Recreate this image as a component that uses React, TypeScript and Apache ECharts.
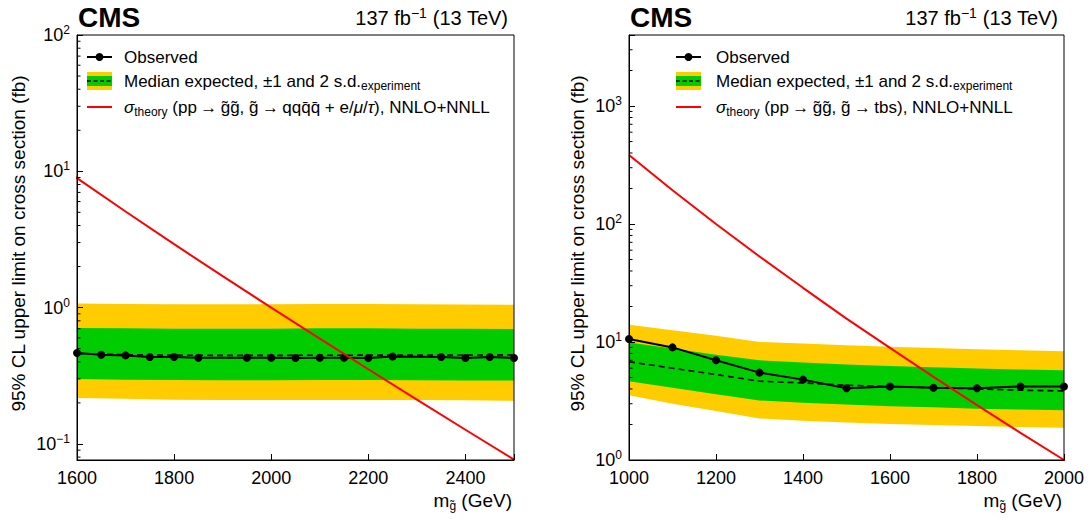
import React, { useEffect, useRef } from 'react';
import * as echarts from 'echarts';

const FONT = '"Liberation Sans", Arial, Helvetica, sans-serif';

// ---------- Left panel: gluino -> qqqq + e/mu/tau ----------
const obsMassL = [1600, 1650, 1700, 1750, 1800, 1850, 1950, 2000, 2050, 2100, 2150, 2200, 2250, 2350, 2400, 2450, 2500];
const obsL = [0.464, 0.451, 0.446, 0.434, 0.434, 0.429, 0.429, 0.429, 0.427, 0.429, 0.429, 0.427, 0.438, 0.434, 0.427, 0.434, 0.427];
const bandMassL = [1600, 1700, 1800, 1900, 2000, 2100, 2200, 2300, 2400, 2500];
const expL = [0.46, 0.452, 0.448, 0.446, 0.446, 0.447, 0.448, 0.449, 0.449, 0.45];
const s1UpL = [0.71, 0.705, 0.70, 0.70, 0.70, 0.705, 0.705, 0.70, 0.70, 0.697];
const s1DnL = [0.299, 0.296, 0.294, 0.293, 0.293, 0.294, 0.294, 0.293, 0.292, 0.292];
const s2UpL = [1.07, 1.065, 1.06, 1.06, 1.06, 1.065, 1.065, 1.06, 1.055, 1.05];
const s2DnL = [0.217, 0.214, 0.211, 0.21, 0.21, 0.21, 0.21, 0.21, 0.209, 0.207];

// ---------- Right panel: gluino -> tbs ----------
const massR = [1000, 1100, 1200, 1300, 1400, 1500, 1600, 1700, 1800, 1900, 2000];
const obsR = [10.6, 9.0, 7.0, 5.5, 4.8, 4.05, 4.2, 4.1, 4.05, 4.2, 4.2];
const expR = [6.8, 6.0, 5.3, 4.65, 4.5, 4.3, 4.2, 4.1, 4.0, 3.9, 3.85];
const s1UpR = [9.9, 8.8, 7.8, 7.0, 6.7, 6.45, 6.25, 6.1, 5.95, 5.85, 5.75];
const s1DnR = [4.65, 4.1, 3.6, 3.2, 3.05, 2.95, 2.85, 2.8, 2.72, 2.68, 2.64];
const s2UpR = [14.0, 12.6, 11.3, 10.0, 9.7, 9.4, 9.1, 8.9, 8.7, 8.5, 8.35];
const s2DnR = [3.54, 3.0, 2.6, 2.25, 2.15, 2.08, 2.02, 1.98, 1.94, 1.9, 1.88];

// ---------- Gluino pair production cross section (fb), NNLO+NNLL ----------
const theoryMass = [1000, 1100, 1200, 1300, 1400, 1500, 1600, 1700, 1800, 1900, 2000, 2100, 2200, 2300, 2400, 2500];
const theoryXsec = [385, 193, 100, 53.1, 28.8, 15.8, 8.91, 5.07, 2.92, 1.70, 1.0, 0.593, 0.353, 0.211, 0.127, 0.0767];

// ---------- Axis ticks ----------
const xTicksStep = 200;
const minorTicksL = [0.08, 0.09, 0.2, 0.3, 0.4, 0.5, 0.6, 0.7, 0.8, 0.9, 2, 3, 4, 5, 6, 7, 8, 9, 20, 30, 40, 50, 60, 70, 80, 90];
const minorTicksR = [2, 3, 4, 5, 6, 7, 8, 9, 20, 30, 40, 50, 60, 70, 80, 90, 200, 300, 400, 500, 600, 700, 800, 900, 2000, 3000];

const YELLOW = '#FFCC00';
const GREEN = '#00CC00';
const RED = '#FF0000';

const G = [
  { left: 77, top: 35, width: 437, height: 425 },
  { left: 629, top: 35, width: 435, height: 425 },
];

function logFmt(v: number) {
  const l = Math.log10(v);
  const e = Math.round(l);
  if (Math.abs(l - e) > 1e-6) return '';
  const es = e < 0 ? '\u2212' + -e : String(e);
  return `{b|10}{e|${es}}`;
}

const logRich = {
  b: { fontSize: 18, fontFamily: FONT, color: '#000', lineHeight: 22 },
  e: { fontSize: 12, fontFamily: FONT, color: '#000', lineHeight: 13, verticalAlign: 'top' },
};

function bandSeries(i: number, masses: number[], up: number[], dn: number[], color: string, z: number) {
  return {
    type: 'custom',
    xAxisIndex: i,
    yAxisIndex: i,
    silent: true,
    clip: true,
    z,
    data: masses.map((m, k) => [m, up[k], dn[k]]),
    encode: { x: 0, y: [1, 2] },
    renderItem: (params: any, api: any) => {
      if (params.dataIndex !== 0) return { type: 'group', children: [] };
      const top = masses.map((m, k) => api.coord([m, up[k]]));
      const bot = masses.map((m, k) => api.coord([m, dn[k]])).reverse();
      return { type: 'polygon', shape: { points: top.concat(bot) }, style: { fill: color, stroke: null } };
    },
  };
}

function minorTickSeries(i: number, xmin: number, vals: number[]) {
  return {
    type: 'custom',
    xAxisIndex: i,
    yAxisIndex: i,
    silent: true,
    clip: false,
    z: 12,
    data: vals.map((v) => [xmin, v]),
    renderItem: (params: any, api: any) => {
      const p = api.coord([api.value(0), api.value(1)]);
      return {
        type: 'line',
        shape: { x1: p[0], y1: p[1], x2: p[0] + 3.5, y2: p[1] },
        style: { stroke: '#000', lineWidth: 1 },
      };
    },
  };
}

function xAxisCfg(i: number, min: number, max: number) {
  return {
    type: 'value',
    gridIndex: i,
    min,
    max,
    interval: xTicksStep,
    z: 10,
    axisLine: { show: true, lineStyle: { color: '#000', width: 1 } },
    axisTick: { show: true, inside: true, length: 6, lineStyle: { color: '#000', width: 1 } },
    splitLine: { show: false },
    axisLabel: {
      color: '#000',
      fontSize: 18,
      fontFamily: FONT,
      margin: 9,
      formatter: (v: number) => (Math.abs(v % xTicksStep) < 1e-6 ? String(v) : ''),
    },
  };
}

function yAxisCfg(i: number, min: number, max: number) {
  return {
    type: 'log',
    logBase: 10,
    gridIndex: i,
    min,
    max,
    z: 10,
    axisLine: { show: true, lineStyle: { color: '#000', width: 1 } },
    axisTick: { show: true, inside: true, length: 6, lineStyle: { color: '#000', width: 1 } },
    minorTick: { show: false },
    splitLine: { show: false },
    axisLabel: { formatter: logFmt, margin: 7, rich: logRich },
  };
}

function lineSeries(i: number, xs: number[], ys: number[], extra: any) {
  return {
    type: 'line',
    xAxisIndex: i,
    yAxisIndex: i,
    data: xs.map((x, k) => [x, ys[k]]),
    silent: true,
    ...extra,
  };
}

const txt = { fontFamily: FONT, fill: '#000' };
const LFS = 17;
const LSUB = 12;

function legend(x0: number, textX: number, theoryRich: string) {
  const items: any[] = [];
  // Observed
  items.push({ type: 'line', shape: { x1: x0, y1: 57, x2: x0 + 25, y2: 57 }, style: { stroke: '#000', lineWidth: 2 } });
  items.push({ type: 'circle', shape: { cx: x0 + 12.5, cy: 57, r: 4 }, style: { fill: '#000' } });
  items.push({ type: 'text', x: textX, y: 57, style: { ...txt, text: 'Observed', fontSize: LFS, verticalAlign: 'middle' } });
  // Expected
  items.push({ type: 'rect', shape: { x: x0, y: 72, width: 25, height: 18 }, style: { fill: YELLOW } });
  items.push({ type: 'rect', shape: { x: x0, y: 76, width: 25, height: 10 }, style: { fill: GREEN } });
  items.push({ type: 'line', shape: { x1: x0, y1: 81, x2: x0 + 25, y2: 81 }, style: { stroke: '#000', lineWidth: 1.6, lineDash: [4, 2.5] } });
  items.push({
    type: 'text',
    x: textX,
    y: 81,
    style: {
      ...txt,
      text: '{a|Median expected, \u00b11 and 2 s.d.}{s|experiment}',
      verticalAlign: 'middle',
      rich: {
        a: { fontSize: LFS, fontFamily: FONT, color: '#000', lineHeight: 21 },
        s: { fontSize: LSUB, fontFamily: FONT, color: '#000', lineHeight: 14, verticalAlign: 'bottom' },
      },
    },
  });
  // Theory
  items.push({ type: 'line', shape: { x1: x0, y1: 107, x2: x0 + 25, y2: 107 }, style: { stroke: RED, lineWidth: 2 } });
  items.push({
    type: 'text',
    x: textX,
    y: 107,
    style: {
      ...txt,
      text: theoryRich,
      verticalAlign: 'middle',
      rich: {
        a: { fontSize: LFS, fontFamily: FONT, color: '#000', lineHeight: 21 },
        i: { fontSize: LFS, fontFamily: FONT, fontStyle: 'italic', color: '#000', lineHeight: 21 },
        s: { fontSize: LSUB, fontFamily: FONT, color: '#000', lineHeight: 14, verticalAlign: 'bottom' },
      },
    },
  });
  return items;
}

const gg = 'g\u0303';
const qb = 'q\u0304';
const theoryTextL = `{i|\u03c3}{s|theory}{a| (pp\u2009\u2192\u2009${gg}${gg}, ${gg}\u2009\u2192\u2009qq${qb}${qb} + e/}{i|\u03bc}{a|/}{i|\u03c4}{a|), NNLO+NNLL}`;
const theoryTextR = `{i|\u03c3}{s|theory}{a| (pp\u2009\u2192\u2009${gg}${gg}, ${gg}\u2009\u2192\u2009tbs), NNLO+NNLL}`;

function panelTexts(g: { left: number; top: number; width: number; height: number }, yNameX: number) {
  const right = g.left + g.width;
  const bottom = g.top + g.height;
  return [
    { type: 'text', x: g.left + 1, y: 17, style: { ...txt, text: 'CMS', fontSize: 28, fontWeight: 'bold', verticalAlign: 'middle' } },
    {
      type: 'text',
      x: right - 6,
      y: 18,
      style: {
        ...txt,
        text: '{a|137 fb}{s|\u22121}{a| (13 TeV)}',
        align: 'right',
        verticalAlign: 'middle',
        rich: {
          a: { fontSize: 20, fontFamily: FONT, color: '#000', lineHeight: 24 },
          s: { fontSize: 14, fontFamily: FONT, color: '#000', lineHeight: 14, verticalAlign: 'top' },
        },
      },
    },
    {
      type: 'text',
      x: yNameX,
      y: g.top + g.height / 2 - 4,
      rotation: Math.PI / 2,
      style: { ...txt, text: '95% CL upper limit on cross section (fb)', fontSize: 19, align: 'center', verticalAlign: 'middle' },
    },
    {
      type: 'text',
      x: right - 2,
      y: bottom + 40,
      style: {
        ...txt,
        text: `{a|m}{s|${gg}}{a| (GeV)}`,
        align: 'right',
        verticalAlign: 'middle',
        rich: {
          a: { fontSize: 19, fontFamily: FONT, color: '#000', lineHeight: 23 },
          s: { fontSize: 12, fontFamily: FONT, color: '#000', lineHeight: 14, verticalAlign: 'bottom' },
        },
      },
    },
  ];
}

export default function App() {
  const ref = useRef<HTMLDivElement>(null);
  useEffect(() => {
    if (!ref.current) return;
    const chart = echarts.init(ref.current, null, { renderer: 'svg' });
    const obsStyle = {
      symbol: 'circle',
      symbolSize: 8,
      itemStyle: { color: '#000' },
      lineStyle: { color: '#000', width: 2 },
      z: 5,
    };
    const expStyle = { symbol: 'none', lineStyle: { color: '#000', width: 1.6, type: [6, 4] }, z: 4 };
    const thStyle = { symbol: 'none', lineStyle: { color: RED, width: 2 }, z: 6 };
    chart.setOption({
      animation: false,
      backgroundColor: '#fff',
      grid: G.map((g) => ({ ...g, show: true, borderColor: '#000', borderWidth: 1, backgroundColor: 'transparent', z: 10 })),
      xAxis: [xAxisCfg(0, 1600, 2500), xAxisCfg(1, 1000, 2000)],
      yAxis: [yAxisCfg(0, 0.0762, 100), yAxisCfg(1, 1, 4000)],
      series: [
        bandSeries(0, bandMassL, s2UpL, s2DnL, YELLOW, 1),
        bandSeries(0, bandMassL, s1UpL, s1DnL, GREEN, 2),
        lineSeries(0, bandMassL, expL, expStyle),
        lineSeries(0, obsMassL, obsL, obsStyle),
        lineSeries(0, theoryMass, theoryXsec, thStyle),
        minorTickSeries(0, 1600, minorTicksL),
        bandSeries(1, massR, s2UpR, s2DnR, YELLOW, 1),
        bandSeries(1, massR, s1UpR, s1DnR, GREEN, 2),
        lineSeries(1, massR, expR, expStyle),
        lineSeries(1, massR, obsR, obsStyle),
        lineSeries(1, theoryMass, theoryXsec, thStyle),
        minorTickSeries(1, 1000, minorTicksR),
      ],
      graphic: [
        ...panelTexts(G[0], 18),
        ...panelTexts(G[1], 577),
        ...legend(87, 124, theoryTextL),
        ...legend(676, 716, theoryTextR),
      ],
    });
    return () => chart.dispose();
  }, []);
  return <div ref={ref} style={{ position: 'absolute', left: 0, top: 0, width: 1091, height: 519 }} />;
}
